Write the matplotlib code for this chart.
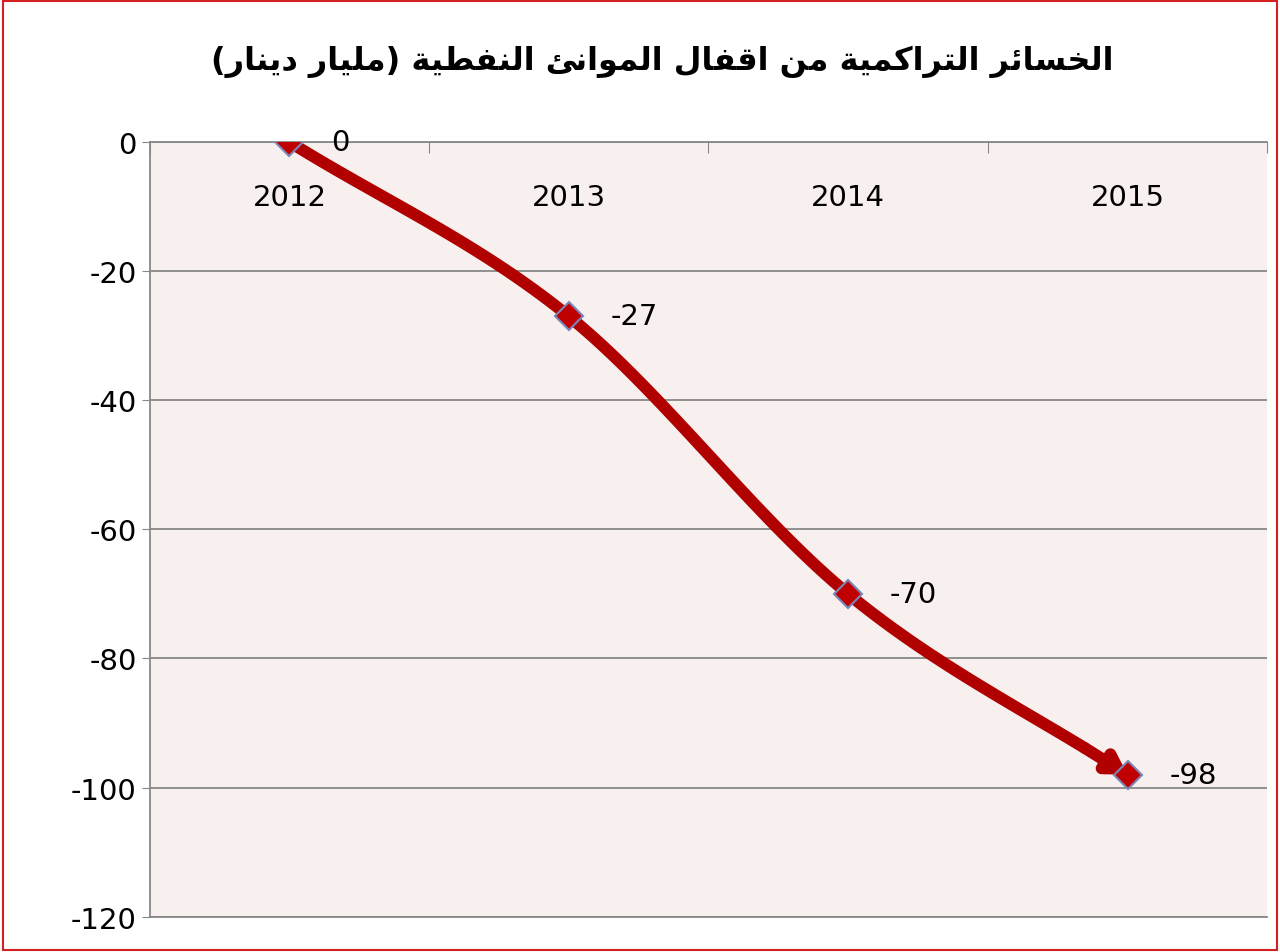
import numpy as np
import matplotlib
matplotlib.use("Agg")
import matplotlib.pyplot as plt
from matplotlib.patches import Rectangle

plt.rcParams['axes.unicode_minus'] = False

# data
years = ['2012', '2013', '2014', '2015']
losses = [0, -27, -70, -98]
title_text = 'الخسائر التراكمية من اقفال الموانئ النفطية (مليار دينار)'

# minimal arabic shaping (iso, fin, ini, med)
FORMS = {
    'ا': (0xFE8D, 0xFE8E, None, None), 'ل': (0xFEDD, 0xFEDE, 0xFEDF, 0xFEE0),
    'خ': (0xFEA5, 0xFEA6, 0xFEA7, 0xFEA8), 'س': (0xFEB1, 0xFEB2, 0xFEB3, 0xFEB4),
    'ئ': (0xFE89, 0xFE8A, 0xFE8B, 0xFE8C), 'ر': (0xFEAD, 0xFEAE, None, None),
    'ت': (0xFE95, 0xFE96, 0xFE97, 0xFE98), 'ك': (0xFED9, 0xFEDA, 0xFEDB, 0xFEDC),
    'م': (0xFEE1, 0xFEE2, 0xFEE3, 0xFEE4), 'ي': (0xFEF1, 0xFEF2, 0xFEF3, 0xFEF4),
    'ة': (0xFE93, 0xFE94, None, None), 'ن': (0xFEE5, 0xFEE6, 0xFEE7, 0xFEE8),
    'ق': (0xFED5, 0xFED6, 0xFED7, 0xFED8), 'ف': (0xFED1, 0xFED2, 0xFED3, 0xFED4),
    'و': (0xFEED, 0xFEEE, None, None), 'ط': (0xFEC1, 0xFEC2, 0xFEC3, 0xFEC4),
    'د': (0xFEA9, 0xFEAA, None, None),
}

def shape(s):
    out = []
    for i, c in enumerate(s):
        if c not in FORMS:
            out.append({'(': ')', ')': '('}.get(c, c))
            continue
        prev = s[i-1] if i > 0 else ''
        nxt = s[i+1] if i < len(s)-1 else ''
        jp = prev in FORMS and FORMS[prev][2] is not None
        jn = nxt in FORMS and FORMS[c][2] is not None
        iso, fin, ini, med = FORMS[c]
        if jp and jn:
            code = med
        elif jp:
            code = fin
        elif jn:
            code = ini
        else:
            code = iso
        out.append(chr(code))
    return ''.join(reversed(out))

fig = plt.figure(figsize=(12.8, 9.53), dpi=100)
fig.patches.append(Rectangle((0.002, 0.002), 0.996, 0.996, transform=fig.transFigure,
                             fill=False, edgecolor='#d42020', linewidth=1.5))
ax = fig.add_axes([0.117, 0.037, 0.873, 0.813])
ax.set_facecolor('#f8f0ee')

x = np.arange(1, len(years) + 1)
y = np.array(losses, dtype=float)

# smooth line (Catmull-Rom through the points)
px = np.concatenate([[2*x[0]-x[1]], x, [2*x[-1]-x[-2]]])
py = np.concatenate([[2*y[0]-y[1]], y, [2*y[-1]-y[-2]]])
sx, sy = [], []
t = np.linspace(0, 1, 40)
for i in range(1, len(px) - 2):
    p0, p1, p2, p3 = [np.array([px[j], py[j]]) for j in range(i-1, i+3)]
    for tt in t:
        pt = 0.5*((2*p1) + (-p0+p2)*tt + (2*p0-5*p1+4*p2-p3)*tt**2 + (-p0+3*p1-3*p2+p3)*tt**3)
        sx.append(pt[0]); sy.append(pt[1])
ax.plot(sx[:-6], sy[:-6], color='#b00000', linewidth=8.5, solid_capstyle='round', zorder=3)
ax.annotate('', xy=(sx[-1], sy[-1]), xytext=(sx[-7], sy[-7]),
            arrowprops=dict(arrowstyle='-|>,head_length=1.0,head_width=0.6',
                            color='#b00000', lw=8.5, shrinkA=0, shrinkB=0), zorder=3)
ax.plot(x, y, linestyle='none', marker='D', markersize=14, markerfacecolor='#c00000',
        markeredgecolor='#7a86b8', markeredgewidth=1.5, zorder=4)

for xi, yi in zip(x, losses):
    ax.text(xi + 0.15, yi, str(yi), fontsize=21, va='center', ha='left')
    ax.text(xi, -8.5, years[xi-1], fontsize=21, va='center', ha='center')

ax.set_xlim(0.5, 4.5)
ax.set_ylim(-120, 0)
ax.set_yticks(range(-120, 1, 20))
ax.tick_params(axis='y', labelsize=21, length=6, color='#888888')
ax.set_xticks(np.arange(0.5, 4.6, 1))
ax.tick_params(axis='x', bottom=False, labelbottom=False, top=True, direction='in',
               length=8, color='#888888')
ax.grid(axis='y', color='#888888', linewidth=1.3)
ax.spines['right'].set_visible(False)
for side in ['left', 'top', 'bottom']:
    ax.spines[side].set_color('#888888')
    ax.spines[side].set_linewidth(1.3)
ax.set_axisbelow(True)

fig.text(0.517, 0.935, shape(title_text), fontsize=23, fontweight='bold',
         ha='center', va='center', family=['DejaVu Sans'])

fig.savefig('out.png', dpi=100)
